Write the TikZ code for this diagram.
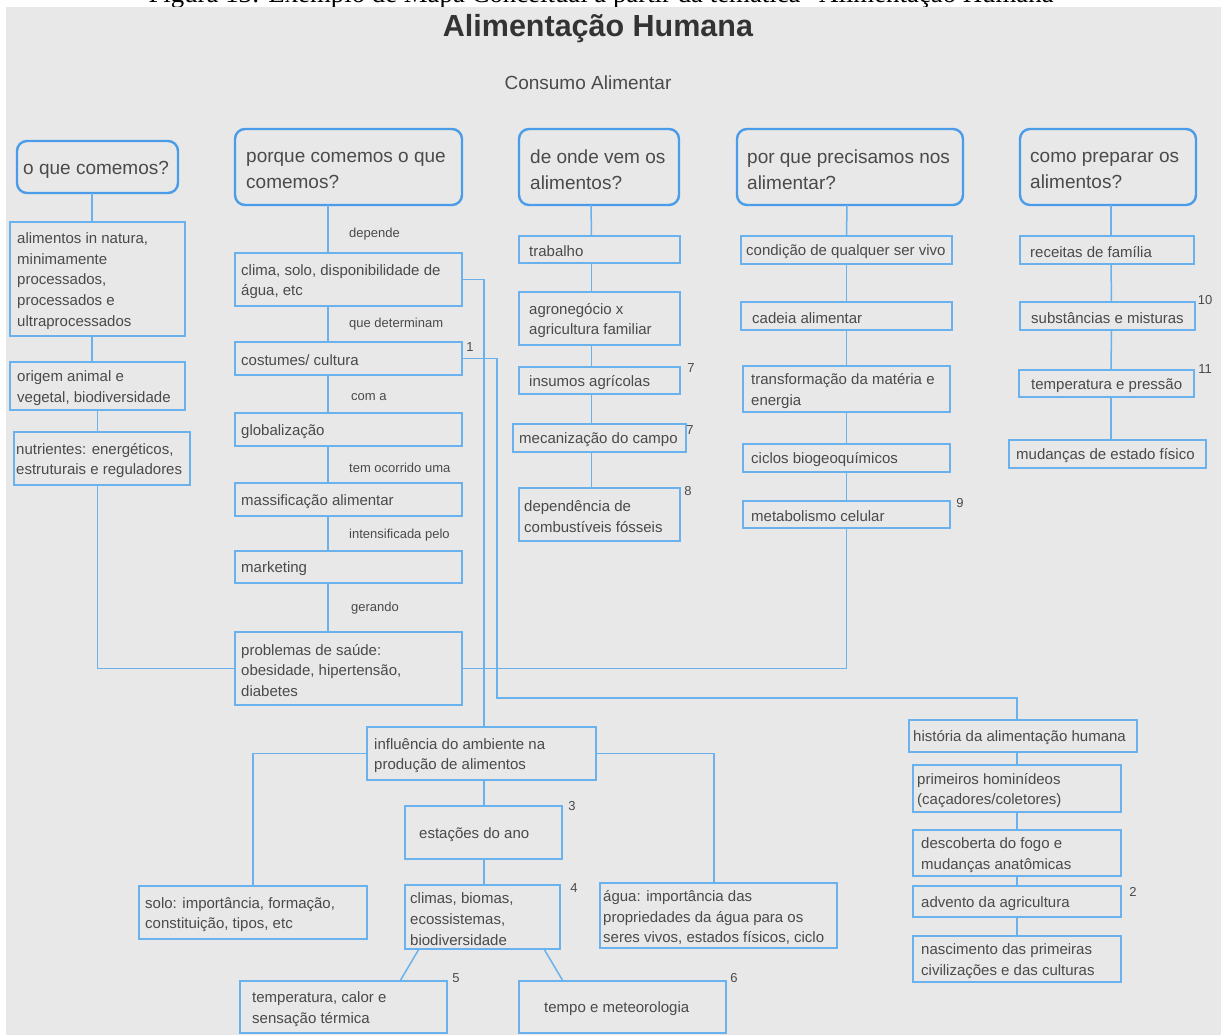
\documentclass[tikz,border=0pt]{standalone}
\usepackage{fontspec}
\setmainfont{Liberation Sans}
\newfontfamily\capfont{Liberation Serif}
\definecolor{bgc}{HTML}{E8E8E8}
\definecolor{linec}{HTML}{6AB2EE}
\definecolor{qc}{HTML}{4A9CE8}
\definecolor{txt}{HTML}{4A4A4A}
\tikzset{
  cbox/.style={draw=linec, line width=1.8pt, fill=bgc, rectangle, inner sep=0pt, outer sep=0pt},
  qbox/.style={draw=qc, line width=2.4pt, fill=bgc, rectangle, rounded corners=10pt, inner sep=0pt, outer sep=0pt},
  btext/.style={anchor=west, align=left, inner sep=0pt, text=txt, font=\fontsize{15}{20.7}\selectfont},
  qtext/.style={anchor=west, align=left, inner sep=0pt, text=txt, font=\fontsize{19}{26}\selectfont},
  lbl/.style={anchor=west, inner sep=0pt, text=txt, font=\fontsize{13}{15}\selectfont},
  num/.style={inner sep=0pt, text=txt, font=\fontsize{13}{15}\selectfont},
  conn/.style={draw=linec, line width=1.5pt}
}
\newcommand\bx[7]{%
  \pgfmathsetmacro\bw{#4-#2}\pgfmathsetmacro\bh{#5-#3}%
  \node[cbox, minimum width=\bw pt, minimum height=\bh pt, anchor=north west] (#1) at (#2,#3) {};%
  \node[btext] (#1t) at ([xshift=#6pt, yshift=-2pt]#1.west) {#7};}
\newcommand\qb[7]{%
  \pgfmathsetmacro\bw{#4-#2}\pgfmathsetmacro\bh{#5-#3}%
  \node[qbox, minimum width=\bw pt, minimum height=\bh pt, anchor=north west] (#1) at (#2,#3) {};%
  \node[qtext] (#1t) at ([xshift=#6pt, yshift=-3pt]#1.west) {#7};}
\newcommand\vl[3]{\draw[conn] ([xshift=#3pt]#1.south) -- ([xshift=#3pt]#2.north);}
\begin{document}
\begin{tikzpicture}[x=1pt,y=-1pt]
\clip (0,0) rectangle (1221,1035);
\fill[white] (0,0) rectangle (1221,1035);
\node[anchor=base, inner sep=0pt, font=\capfont\fontsize{26.8}{27}\selectfont] (cap) at (607,3) {Figura 13: Exemplo de Mapa Conceitual a partir da temática “Alimentação Humana”};
\fill[bgc] (6,7) rectangle (1221,1035);

% titles
\node[inner sep=0pt, text=black!80, font=\bfseries\fontsize{30.5}{32}\selectfont] (title) at (598,29) {Alimentação Humana};
\node[inner sep=0pt, text=txt, font=\fontsize{19}{22}\selectfont] (sub) at (588,83) {Consumo Alimentar};

% question boxes
\qb{q1}{17}{141}{178}{193}{6}{o que comemos?}
\qb{q2}{235}{129}{462}{205}{11}{porque comemos o que\\comemos?}
\qb{q3}{519}{129}{679}{205}{11}{de onde vem os\\alimentos?}
\qb{q4}{737}{129}{963}{205}{10}{por que precisamos nos\\alimentar?}
\qb{q5}{1020}{129}{1196}{205}{10}{como preparar os\\alimentos?}

% column 1
\bx{a1}{10}{222}{185}{336}{7}{alimentos in natura,\\minimamente\\processados,\\processados e\\ultraprocessados}
\bx{a2}{10}{362}{185}{410}{7}{origem animal e\\vegetal, biodiversidade}
\bx{a3}{14}{432}{190}{485}{2}{nutrientes: energéticos,\\estruturais e reguladores}

% column 2
\bx{b1}{235}{253}{462}{306}{6}{clima, solo, disponibilidade de\\água, etc}
\bx{b2}{235}{342}{462}{375}{6}{costumes/ cultura}
\bx{b3}{235}{413}{462}{446}{6}{globalização}
\bx{b4}{235}{483}{462}{516}{6}{massificação alimentar}
\bx{b5}{235}{551}{462}{583}{6}{marketing}
\bx{b6}{235}{632}{462}{705}{6}{problemas de saúde:\\obesidade, hipertensão,\\diabetes}

% column 3
\bx{c1}{519}{236}{680}{263}{10}{trabalho}
\bx{c2}{519}{292}{680}{345}{10}{agronegócio x\\agricultura familiar}
\bx{c3}{519}{367}{680}{394}{10}{insumos agrícolas}
\bx{c4}{513}{424}{686}{452}{6}{mecanização do campo}
\bx{c5}{519}{488}{680}{541}{5}{dependência de\\combustíveis fósseis}

% column 4
\bx{d1}{741}{236}{952}{264}{5}{condição de qualquer ser vivo}
\bx{d2}{741}{302}{952}{330}{11}{cadeia alimentar}
\bx{d3}{743}{366}{950}{412}{8}{transformação da matéria e\\energia}
\bx{d4}{743}{444}{950}{472}{8}{ciclos biogeoquímicos}
\bx{d5}{743}{501}{950}{528}{8}{metabolismo celular}

% column 5
\bx{e1}{1020}{236}{1194}{264}{10}{receitas de família}
\bx{e2}{1020}{302}{1195}{330}{11}{substâncias e misturas}
\bx{e3}{1019}{370}{1194}{397}{12}{temperatura e pressão}
\bx{e4}{1009}{440}{1206}{468}{7}{mudanças de estado físico}

% history
\bx{h1}{909}{720}{1137}{752}{4}{história da alimentação humana}
\bx{h2}{913}{765}{1121}{812}{4}{primeiros hominídeos\\(caçadores/coletores)}
\bx{h3}{913}{830}{1121}{876}{8}{descoberta do fogo e\\mudanças anatômicas}
\bx{h4}{913}{886}{1121}{917}{8}{advento da agricultura}
\bx{h5}{913}{936}{1121}{982}{8}{nascimento das primeiras\\civilizações e das culturas}

% bottom
\bx{f1}{367}{727}{596}{780}{7}{influência do ambiente na\\produção de alimentos}
\bx{f2}{405}{806}{562}{859}{14}{estações do ano}
\bx{f3}{405}{885}{560}{949}{5}{climas, biomas,\\ecossistemas,\\biodiversidade}
\bx{f4}{139}{886}{367}{939}{6}{solo: importância, formação,\\constituição, tipos, etc}
\bx{f5}{600}{883}{837}{948}{3}{água: importância das\\propriedades da água para os\\seres vivos, estados físicos, ciclo}
\bx{f6}{240}{981}{447}{1033}{12}{temperatura, calor e\\sensação térmica}
\bx{f7}{519}{981}{726}{1033}{25}{tempo e meteorologia}

% link labels
\node[lbl] (l1) at (349,234) {depende};
\node[lbl] (l2) at (349,324) {que determinam};
\node[lbl] (l3) at (351,397) {com a};
\node[lbl] (l4) at (349,468) {tem ocorrido uma};
\node[lbl] (l5) at (349,535) {intensificada pelo};
\node[lbl] (l6) at (351,608) {gerando};

% numbers
\node[num] (n1) at (470,347) {1};
\node[num] (n7a) at (691,368) {7};
\node[num] (n7b) at (690,430) {7};
\node[num] (n8) at (688,491) {8};
\node[num] (n9) at (960,503) {9};
\node[num] (n10) at (1205,300) {10};
\node[num] (n11) at (1205,369) {11};
\node[num] (n2) at (1133,892) {2};
\node[num] (n3) at (572,806) {3};
\node[num] (n4) at (574,888) {4};
\node[num] (n5) at (456,978) {5};
\node[num] (n6) at (734,978) {6};

% connectors column 1
\vl{q1}{a1}{-5.5}
\vl{a1}{a2}{-5.5}
\draw[conn] (a2.south) -- ([xshift=-4.5pt]a3.north);
\draw[conn] ([xshift=-4.5pt]a3.south) |- (b6.west);
% column 2
\vl{q2}{b1}{-20.5}
\vl{b1}{b2}{-20.5}
\vl{b2}{b3}{-20.5}
\vl{b3}{b4}{-20.5}
\vl{b4}{b5}{-20.5}
\vl{b5}{b6}{-20.5}
% column 3
\vl{q3}{c1}{-8}
\vl{c1}{c2}{-8}
\vl{c2}{c3}{-8}
\vl{c3}{c4}{-8}
\vl{c4}{c5}{-8}
% column 4
\draw[conn] ([xshift=-3pt]q4.south) -- (d1.north);
\vl{d1}{d2}{0}
\vl{d2}{d3}{0}
\vl{d3}{d4}{0}
\vl{d4}{d5}{0}
\draw[conn] (b6.east) -| (d5.south);
% column 5
\draw[conn] ([xshift=3pt]q5.south) -- ([xshift=4pt]e1.north);
\vl{e1}{e2}{4}
\draw[conn] ([xshift=4pt]e2.south) -- ([xshift=4.5pt]e3.north);
\draw[conn] ([xshift=4.5pt]e3.south) -- ([xshift=3.5pt]e4.north);
% long links
\draw[conn] (b1.east) -| ([xshift=2.5pt]f1.north);
\coordinate (k1) at (497,698);
\draw[conn] (b2.east) -| (k1) -| ([xshift=-6pt]h1.north);
% history
\draw[conn] ([xshift=-6pt]h1.south) -- (h2.north);
\vl{h2}{h3}{0}
\vl{h3}{h4}{0}
\vl{h4}{h5}{0}
% bottom
\draw[conn] ([xshift=2.5pt]f1.south) -- ([xshift=0.5pt]f2.north);
\draw[conn] ([xshift=0.5pt]f2.south) -- ([xshift=1.5pt]f3.north);
\draw[conn] (f1.west) -| (f4.north);
\draw[conn] (f1.east) -| ([xshift=-4.5pt]f5.north);
\draw[conn] ([xshift=14pt]f3.south west) -- ([xshift=160pt]f6.north west);
\draw[conn] ([xshift=-16pt]f3.south east) -- ([xshift=44pt]f7.north west);
\end{tikzpicture}
\end{document}
